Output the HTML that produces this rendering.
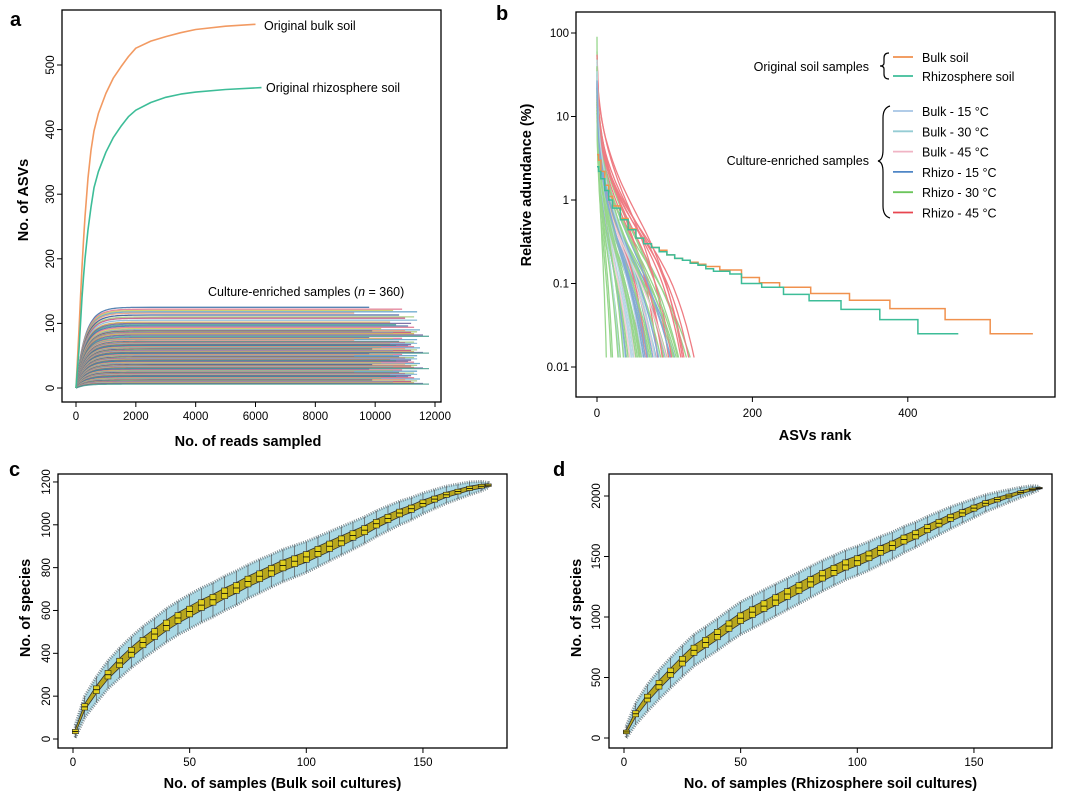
<!DOCTYPE html>
<html><head><meta charset="utf-8"><style>
body{margin:0;background:#fff;}
svg{display:block;font-family:"Liberation Sans",sans-serif;}
</style></head><body>
<svg id="fig" width="1080" height="794" viewBox="0 0 1080 794">
<rect x="0" y="0" width="1080" height="794" fill="#fff"/>
<g id="pa"></g>
<g id="pb"></g>
<g id="pc"></g>
<g id="pd"></g>
</svg>
<script>
// ---------- Panel a data ----------
const aBulkReads = [0,50,100,150,200,250,300,400,500,600,750,1000,1250,1500,1750,2000,2500,3000,3500,4000,5000,6000];
const aBulkAsv = [0,45,90,140,187,228,265,325,368,398,425,456,480,497,513,526,537,544,550,555,560,563];
const aRhizoReads = [0,50,100,150,200,250,300,400,500,600,750,1000,1250,1500,1750,2000,2500,3000,3500,4000,5000,6200];
const aRhizoAsv = [0,30,60,100,140,172,200,245,280,310,335,365,388,405,420,430,442,450,455,458,462,465];
const aCultureAsym = [125,122,120,118,116,113,110,108,105,102,100,98,96,94,92,90,89,88,87,86,85,84,82,80,78,77,76,75,74,72,71,70,69,68,67,66,65,64,63,62,61,60,59,58,57,56,55,54,53,52,51,50,49,48,47,46,45,44,43,42,41,40,39,38,37,36,35,34,33,32,31,30,29,28,27,26,25,24,23,22,21,20,19,18,17,16,15,14,13,12,11,10,9,8,7,6];
const aCultureEnd = [9800,10900,10600,11400,9300,10800,11300,11000,11400,10500,11200,10700,11100,11300,10200,11500,11000,9900,11400,11200,10600,11300,11600,11800];
const aXTicks = [0,2000,4000,6000,8000,10000,12000];
const aYTicks = [0,100,200,300,400,500];
// ---------- Panel b data ----------
const bBulkRank = [0,2,5,10,15,20,30,40,50,60,70,80,90,100,110,120,130,140,158,186,209,235,275,325,377,448,506,561];
const bBulkVal = [3.5,3.0,2.2,1.5,1.1,0.85,0.6,0.45,0.35,0.3,0.27,0.25,0.22,0.2,0.19,0.18,0.17,0.16,0.145,0.118,0.102,0.09,0.076,0.063,0.05,0.037,0.025,0.025];
const bRhizoRank = [0,2,5,10,15,20,30,40,50,60,70,80,90,100,110,120,130,140,150,171,186,212,240,273,314,364,413,465];
const bRhizoVal = [2.5,2.2,1.8,1.3,1.0,0.8,0.58,0.44,0.35,0.3,0.27,0.24,0.22,0.2,0.19,0.175,0.165,0.15,0.14,0.13,0.1,0.09,0.074,0.062,0.049,0.037,0.025,0.025];
const bCultStart = [90,40,25,15,30,20,12,50,18,35,22,10,28,16,45,14,24,60,20,11,33,17,26,13,38,19,9,21,27,15,42,23,12,31,18,55,14,25,20,16,36,13,29,22,11,48,17,24,19,15,32,26,14,21,18,40,23,12,28,16,20,25,15,30,18,22,12,35,16,27];
const bCultEnd = [12,20,35,50,60,75,90,105,120,45,55,65,80,95,110,30,40,70,85,100,115,125,58,68,78,88,98,108,48,38,28,18,62,72,82,92,102,112,52,42,66,76,86,96,57,47,37,27,74,84,94,104,64,54,44,34,79,89,99,118,50,60,70,45,55,65,40,75,52,62];
const bCultGroup = [4,4,1,2,4,0,4,4,4,3,5,4,1,3,5,4,2,4,5,3,4,5,0,4,5,3,4,5,2,4,1,4,5,3,4,5,4,5,0,2,4,3,4,5,4,1,3,4,2,5,3,4,5,4,1,4,3,2,4,5,4,3,4,0,4,3,4,1,4,3];
const bYTicks = [100,10,1,0.1,0.01];
const bYTickLabels = ['100','10','1','0.1','0.01'];
const bXTicks = [0,200,400];
const bLegendLabels = ['Bulk - 15 °C','Bulk - 30 °C','Bulk - 45 °C','Rhizo - 15 °C','Rhizo - 30 °C','Rhizo - 45 °C'];
// ---------- Panel c data ----------
const cSamples = [1,5,10,15,20,25,30,35,40,45,50,55,60,65,70,75,80,85,90,95,100,105,110,115,120,125,130,135,140,145,150,155,160,165,170,175,178];
const cMedian = [35,150,230,300,355,405,450,490,530,565,595,625,650,680,705,735,760,785,810,830,850,875,900,925,950,975,1005,1030,1055,1075,1100,1120,1140,1155,1170,1180,1185];
const cIqrHalf = [10,15,18,20,22,23,24,25,25,25,25,25,25,25,25,25,25,25,25,25,25,24,24,23,22,21,20,19,18,17,16,14,12,11,10,9,6];
const cWhiskHalf = [30,50,60,65,70,72,75,76,78,78,80,80,80,80,80,78,78,76,75,74,72,70,68,66,64,62,60,58,55,52,48,44,40,35,30,22,12];
const cXTicks = [0,50,100,150];
const cYTicks = [0,200,400,600,800,1000,1200];
// ---------- Panel d data ----------
const dSamples = [1,5,10,15,20,25,30,35,40,45,50,55,60,65,70,75,80,85,90,95,100,105,110,115,120,125,130,135,140,145,150,155,160,165,170,175,178];
const dMedian = [50,200,330,440,540,635,725,790,855,925,990,1040,1090,1140,1190,1240,1290,1340,1385,1430,1465,1505,1550,1590,1640,1680,1730,1775,1820,1860,1900,1940,1970,2000,2030,2055,2065];
const dIqrHalf = [15,25,32,36,38,40,42,42,43,43,44,44,44,44,44,44,43,43,42,42,41,40,39,38,37,35,33,31,29,27,25,22,19,16,13,10,6];
const dWhiskHalf = [50,90,110,120,125,128,130,130,132,132,134,134,134,132,130,130,128,126,124,122,120,118,116,112,108,104,100,95,90,84,78,70,62,52,42,30,15];
const dXTicks = [0,50,100,150];
const dYTicks = [0,500,1000,1500,2000];

const NS='http://www.w3.org/2000/svg';
function mk(parent,tag,attrs){const e=document.createElementNS(NS,tag);for(const k in attrs)e.setAttribute(k,attrs[k]);parent.appendChild(e);return e;}
function txt(parent,x,y,s,attrs){const t=mk(parent,'text',Object.assign({x:x,y:y},attrs||{}));t.textContent=s;return t;}

// ====== Panel A ======
(function(){
 const g=document.getElementById('pa');
 const X=v=>76+v*(359/12000), Y=v=>388-v*0.646;
 const lab=txt(g,10,26,'a',{'font-size':20,'font-weight':'bold'});
 
 const cols=['#3a6ea5','#e0728f','#c9c95a','#5aa0c8','#e89a7a','#2f4f8f','#a0c878','#c05080','#7fb5d5','#d4a84a','#6a5a9a','#48a090'];
 const cg=mk(g,'g',{});
 
 aCultureAsym.forEach((A,i)=>{
  const end=aCultureEnd[i%aCultureEnd.length];
  let d='';
  for(let x=0;x<=end;x+=(x<2000?50:500)){const y=A*(1-Math.exp(-x/300));d+=(x?'L':'M')+X(x).toFixed(1)+','+Y(y).toFixed(1);}
  d+='L'+X(end).toFixed(1)+','+Y(A*(1-Math.exp(-end/300))).toFixed(1);
  const p=mk(cg,'path',{d:d,fill:'none',stroke:cols[i%cols.length],'stroke-width':1.3,opacity:0.85});
  
 });
 function line(xs,ys,col,name){let d='';xs.forEach((x,i)=>{d+=(i?'L':'M')+X(x).toFixed(1)+','+Y(ys[i]).toFixed(1);});const p=mk(g,'path',{d:d,fill:'none',stroke:col,'stroke-width':1.6,'stroke-linejoin':'round'});}
 line(aBulkReads,aBulkAsv,'#f29a62','bulk-soil-curve');
 line(aRhizoReads,aRhizoAsv,'#3dbd98','rhizosphere-soil-curve');
 const b=mk(g,'rect',{x:62,y:10,width:379,height:392,fill:'none',stroke:'#000','stroke-width':1.3});
 
 aXTicks.forEach(v=>{mk(g,'line',{x1:X(v),x2:X(v),y1:402,y2:407,stroke:'#000'});const t=txt(g,X(v),420,String(v),{'font-size':11.5,'text-anchor':'middle'});});
 aYTicks.forEach(v=>{mk(g,'line',{x1:57,x2:62,y1:Y(v),y2:Y(v),stroke:'#000'});const t=txt(g,54,Y(v),String(v),{'font-size':11.5,'text-anchor':'middle',transform:`rotate(-90 54 ${Y(v)})`});});
 let t=txt(g,248,446,'No. of reads sampled',{'font-size':14.5,'font-weight':'bold','text-anchor':'middle'});
 t=txt(g,28,200,'No. of ASVs',{'font-size':14.5,'font-weight':'bold','text-anchor':'middle',transform:'rotate(-90 28 200)'});
 t=txt(g,264,30,'Original bulk soil',{'font-size':12.5});
 t=txt(g,266,92,'Original rhizosphere soil',{'font-size':12.5});
 t=txt(g,208,296,'',{'font-size':12.5});t.innerHTML='Culture-enriched samples (<tspan font-style="italic">n</tspan> = 360)';
})();

// ====== Panel B ======
(function(){
 const g=document.getElementById('pb');
 const X=v=>597+v*0.777, Y=v=>200-83.5*Math.log10(v);
 let t=txt(g,496,20,'b',{'font-size':20,'font-weight':'bold'});
 const gc=['#a6c4e4','#95ccd4','#f0b4c4','#4f86c6','#6cc55c','#e8454f'];
 const cg=mk(g,'g',{opacity:0.7});
 
 bCultStart.forEach((s,i)=>{
  const E=bCultEnd[i],ls=Math.log10(s),le=Math.log10(0.013);
  const red=bCultGroup[i]===5;
  let d='';
  for(let k=0;k<=50;k++){const tt=k/50;const f=red?(0.72*Math.pow(tt,0.45)+0.28*Math.pow(tt,5)):(0.8*Math.pow(tt,0.4)+0.2*Math.pow(tt,4));const v=Math.pow(10,ls+(le-ls)*f);d+=(k?'L':'M')+X(E*tt).toFixed(1)+','+Y(v).toFixed(1);}
  const p=mk(cg,'path',{d:d,fill:'none',stroke:gc[bCultGroup[i]],'stroke-width':1.3});
  
 });
 function step(rs,vs,col,name){let d='M'+X(rs[0]).toFixed(1)+','+Y(vs[0]).toFixed(1);for(let i=1;i<rs.length;i++){d+='H'+X(rs[i]).toFixed(1)+'V'+Y(vs[i]).toFixed(1);}const p=mk(g,'path',{d:d,fill:'none',stroke:col,'stroke-width':1.5});}
 step(bBulkRank,bBulkVal,'#f0914e','bulk-soil-rank-line');
 step(bRhizoRank,bRhizoVal,'#3dbd98','rhizosphere-soil-rank-line');
 const b=mk(g,'rect',{x:576,y:12,width:479,height:385,fill:'none',stroke:'#000','stroke-width':1.3});
 bYTicks.forEach((v,i)=>{mk(g,'line',{x1:571,x2:576,y1:Y(v),y2:Y(v),stroke:'#000'});t=txt(g,569,Y(v)+4,bYTickLabels[i],{'font-size':11.5,'text-anchor':'end'});});
 bXTicks.forEach(v=>{mk(g,'line',{x1:X(v),x2:X(v),y1:397,y2:402,stroke:'#000'});t=txt(g,X(v),417,String(v),{'font-size':11.5,'text-anchor':'middle'});});
 t=txt(g,815,440,'ASVs rank',{'font-size':14.5,'font-weight':'bold','text-anchor':'middle'});
 t=txt(g,531,185,'Relative adundance (%)',{'font-size':14.5,'font-weight':'bold','text-anchor':'middle',transform:'rotate(-90 531 185)'});
 const lg=mk(g,'g',{});
 t=txt(lg,869,71,'Original soil samples',{'font-size':12.5,'text-anchor':'end'});
 mk(lg,'path',{d:'M889,53 Q884,53 884,58 V63 Q884,66 880,66 Q884,66 884,69 V74 Q884,79 889,79',fill:'none',stroke:'#000','stroke-width':1.2});
 [['Bulk soil','#f0914e',57],['Rhizosphere  soil','#3dbd98',76]].forEach(e=>{mk(lg,'line',{x1:893,x2:913,y1:e[2],y2:e[2],stroke:e[1],'stroke-width':1.8});t=txt(lg,922,e[2]+5,e[0],{'font-size':12.5,'xml:space':'preserve'});});
 t=txt(lg,869,165,'Culture-enriched samples',{'font-size':12.5,'text-anchor':'end'});
 mk(lg,'path',{d:'M890,106 Q883,108 883,118 V150 Q883,160 878,161 Q883,162 883,172 V206 Q883,216 890,218',fill:'none',stroke:'#000','stroke-width':1.2});
 bLegendLabels.forEach((s,i)=>{const y=111+i*20.3;mk(lg,'line',{x1:893,x2:913,y1:y,y2:y,stroke:gc[i],'stroke-width':1.8});t=txt(lg,922,y+5,s,{'font-size':12.5});});
})();

// ====== Panels C & D ======
function boxPanel(id,letter,lx,left,right,x0,y0,yk,samples,med,iqr,wh,xt,yt,ylabX,ytitleX,xtitle){
 const g=document.getElementById(id);
 const X=v=>x0+v*2.333, Y=v=>y0-v*yk;
 let t=txt(g,lx,476,letter,{'font-size':20,'font-weight':'bold'});
 function band(h){let up='',dn='';samples.forEach((s,i)=>{up+=(i?'L':'M')+X(s).toFixed(1)+','+Y(med[i]+h[i]).toFixed(1);});for(let i=samples.length-1;i>=0;i--){dn+='L'+X(samples[i]).toFixed(1)+','+Y(med[i]-h[i]).toFixed(1);}return up+dn+'Z';}
 let p=mk(g,'path',{d:band(wh),fill:'#a9d8e4',stroke:'#7d8c92','stroke-width':3,'stroke-dasharray':'1 1.3'});
 p=mk(g,'path',{d:band(iqr),fill:'#b8a61e',stroke:'#333','stroke-width':0.8});
 samples.forEach((s,i)=>{
  const w=mk(g,'line',{x1:X(s),x2:X(s),y1:Y(med[i]-wh[i]),y2:Y(med[i]+wh[i]),stroke:'#555','stroke-width':0.7});
  
  const r=mk(g,'rect',{x:X(s)-3,y:Y(med[i]+iqr[i]),width:6,height:Math.max(1,(2*iqr[i])*yk),fill:'#e0cf1e',stroke:'#222','stroke-width':0.6});
  
  mk(g,'line',{x1:X(s)-3,x2:X(s)+3,y1:Y(med[i]),y2:Y(med[i]),stroke:'#000','stroke-width':0.8});
 });
 const b=mk(g,'rect',{x:left,y:474,width:right-left,height:274,fill:'none',stroke:'#000','stroke-width':1.3});
 xt.forEach(v=>{mk(g,'line',{x1:X(v),x2:X(v),y1:748,y2:753,stroke:'#000'});t=txt(g,X(v),766,String(v),{'font-size':11.5,'text-anchor':'middle'});});
 yt.forEach(v=>{mk(g,'line',{x1:left-5,x2:left,y1:Y(v),y2:Y(v),stroke:'#000'});t=txt(g,ylabX,Y(v),String(v),{'font-size':11.5,'text-anchor':'middle',transform:`rotate(-90 ${ylabX} ${Y(v)})`});});
 t=txt(g,(left+right)/2,788,xtitle,{'font-size':14.5,'font-weight':'bold','text-anchor':'middle'});
 t=txt(g,ytitleX,608,'No. of species',{'font-size':14.5,'font-weight':'bold','text-anchor':'middle',transform:`rotate(-90 ${ytitleX} 608)`});
}
boxPanel('pc','c',9,58,507,73,739,0.2142,cSamples,cMedian,cIqrHalf,cWhiskHalf,cXTicks,cYTicks,50,30,'No. of samples (Bulk soil cultures)');
boxPanel('pd','d',553,609,1052,624,738,0.121,dSamples,dMedian,dIqrHalf,dWhiskHalf,dXTicks,dYTicks,600,581,'No. of samples (Rhizosphere soil cultures)');
</script>
</body></html>
